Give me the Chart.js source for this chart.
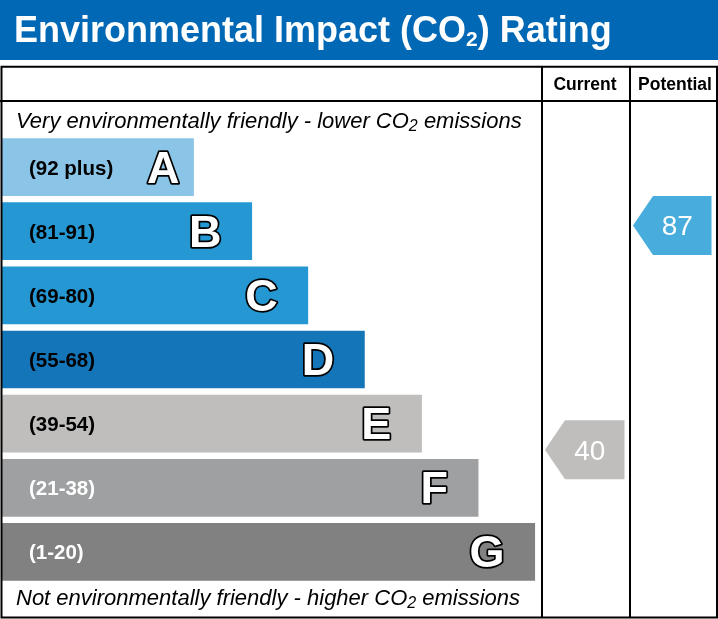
<!DOCTYPE html>
<html>
<head>
<meta charset="utf-8">
<style>
  html, body { margin: 0; padding: 0; background: #fff; }
  canvas { display: block; }
</style>
<script src="https://cdn.jsdelivr.net/npm/chart.js@4/dist/chart.umd.min.js"></script>
</head>
<body>
<canvas id="chart" width="718" height="619"></canvas>
<script>
// --- Data ---
const grades = ['A', 'B', 'C', 'D', 'E', 'F', 'G'];
const rangeLabels = ['(92 plus)', '(81-91)', '(69-80)', '(55-68)', '(39-54)', '(21-38)', '(1-20)'];
const rangeLow = [92, 81, 69, 55, 39, 21, 1];
const rangeHigh = [100, 91, 80, 68, 54, 38, 20];
const barLengths = [35.6, 46.4, 56.8, 67.3, 77.9, 88.4, 98.9];
const currentRating = 40;
const potentialRating = 87;

// --- Styles ---
const FONT = '"Liberation Sans", Arial, sans-serif';
const bandColours = ['#8ac5e8', '#2598d3', '#2598d3', '#1475b9', '#bfbebd', '#9fa0a2', '#818181'];
const rangeTextColours = ['#000', '#000', '#000', '#000', '#000', '#fff', '#fff'];
const letterInset = [13, 29, 29, 29, 29, 29, 29];
const COL_CURRENT = [542, 630];
const COL_POTENTIAL = [630, 717];

// rating -> fractional band position on the category axis
function ratingPos(r) {
  for (let i = 0; i < grades.length; i++) {
    if (r >= rangeLow[i] && r <= rangeHigh[i]) {
      const frac = (rangeHigh[i] - r + 0.5) / (rangeHigh[i] - rangeLow[i] + 1);
      return i - 0.5 + frac;
    }
  }
  return 0;
}

// draw text runs with subscripts
function richText(ctx, parts, x, y) {
  let cx = x;
  parts.forEach(p => {
    ctx.font = p.font;
    ctx.fillText(p.t, cx, y + (p.dy || 0));
    cx += ctx.measureText(p.t).width;
  });
}

function arrow(ctx, col, cy, colour, value) {
  const left = col[0] + 3;
  const right = col[1] - 5.5;
  const h = 29.5;
  ctx.fillStyle = colour;
  ctx.beginPath();
  ctx.moveTo(left, cy);
  ctx.lineTo(left + 20, cy - h);
  ctx.lineTo(right, cy - h);
  ctx.lineTo(right, cy + h);
  ctx.lineTo(left + 20, cy + h);
  ctx.closePath();
  ctx.fill();
  ctx.fillStyle = '#fff';
  ctx.font = '28px ' + FONT;
  ctx.textAlign = 'center';
  ctx.textBaseline = 'alphabetic';
  ctx.fillText(String(value), (left + right) / 2 + 5, cy + 10);
}

const epcFrame = {
  id: 'epcFrame',
  beforeDraw(chart) {
    const ctx = chart.ctx;
    ctx.save();
    ctx.fillStyle = '#fff';
    ctx.fillRect(0, 0, chart.width, chart.height);
    // title bar
    ctx.fillStyle = '#0068b4';
    ctx.fillRect(0, 0, chart.width, 60);
    ctx.fillStyle = '#fff';
    ctx.textAlign = 'left';
    ctx.textBaseline = 'alphabetic';
    richText(ctx, [
      { t: 'Environmental Impact (CO', font: 'bold 36px ' + FONT },
      { t: '2', font: 'bold 21px ' + FONT, dy: 4 },
      { t: ') Rating', font: 'bold 36px ' + FONT }
    ], 14, 42);
    ctx.restore();
  },
  afterDatasetsDraw(chart) {
    const ctx = chart.ctx;
    const meta = chart.getDatasetMeta(0);
    ctx.save();
    meta.data.forEach((bar, i) => {
      // range label
      ctx.fillStyle = rangeTextColours[i];
      ctx.font = 'bold 20.5px ' + FONT;
      ctx.textAlign = 'left';
      ctx.textBaseline = 'alphabetic';
      ctx.fillText(rangeLabels[i], 29, bar.y + 7.5);
      // grade letter, outlined
      ctx.font = 'bold 45px ' + FONT;
      ctx.textAlign = 'right';
      ctx.lineWidth = 3.5;
      ctx.lineJoin = 'round';
      ctx.strokeStyle = '#000';
      const lx = bar.x - letterInset[i] - 1.5;
      const ly = bar.y + 15.5;
      ctx.strokeText(grades[i], lx, ly);
      ctx.fillStyle = '#fff';
      ctx.fillText(grades[i], lx, ly);
    });
    const y = chart.scales.y;
    arrow(ctx, COL_CURRENT, y.getPixelForValue(ratingPos(currentRating)), '#bfbebd', currentRating);
    arrow(ctx, COL_POTENTIAL, y.getPixelForValue(ratingPos(potentialRating)), '#48acdc', potentialRating);
    ctx.restore();
  },
  afterDraw(chart) {
    const ctx = chart.ctx;
    ctx.save();
    // table lines
    ctx.strokeStyle = '#000';
    ctx.lineWidth = 2;
    ctx.beginPath();
    ctx.rect(1.5, 66.7, 715.5, 550.8);
    ctx.moveTo(0, 101); ctx.lineTo(718, 101);
    ctx.moveTo(COL_CURRENT[0], 66); ctx.lineTo(COL_CURRENT[0], 618);
    ctx.moveTo(COL_POTENTIAL[0], 66); ctx.lineTo(COL_POTENTIAL[0], 618);
    ctx.stroke();
    // header
    ctx.fillStyle = '#000';
    ctx.font = 'bold 17.5px ' + FONT;
    ctx.textAlign = 'center';
    ctx.textBaseline = 'alphabetic';
    ctx.fillText('Current', 585, 90);
    ctx.fillText('Potential', 675, 90);
    // italic notes
    ctx.textAlign = 'left';
    richText(ctx, [
      { t: 'Very environmentally friendly - lower CO', font: 'italic 22px ' + FONT },
      { t: '2', font: 'italic 16px ' + FONT, dy: 3 },
      { t: ' emissions', font: 'italic 22px ' + FONT }
    ], 16, 128);
    richText(ctx, [
      { t: 'Not environmentally friendly - higher CO', font: 'italic 22px ' + FONT },
      { t: '2', font: 'italic 16px ' + FONT, dy: 3 },
      { t: ' emissions', font: 'italic 22px ' + FONT }
    ], 16, 605);
    ctx.restore();
  }
};

const chartInstance = new Chart(document.getElementById('chart').getContext('2d'), {
  type: 'bar',
  data: {
    labels: grades,
    datasets: [{
      data: barLengths,
      backgroundColor: bandColours,
      borderWidth: 0,
      barPercentage: 0.9,
      categoryPercentage: 1
    }]
  },
  options: {
    indexAxis: 'y',
    responsive: false,
    animation: false,
    events: [],
    layout: { padding: { left: 2, right: 177, top: 135, bottom: 35 } },
    scales: {
      x: { display: false, min: 0, max: 100 },
      y: { display: false }
    },
    plugins: {
      legend: { display: false },
      tooltip: { enabled: false }
    }
  },
  plugins: [epcFrame]
});
</script>
</body>
</html>
